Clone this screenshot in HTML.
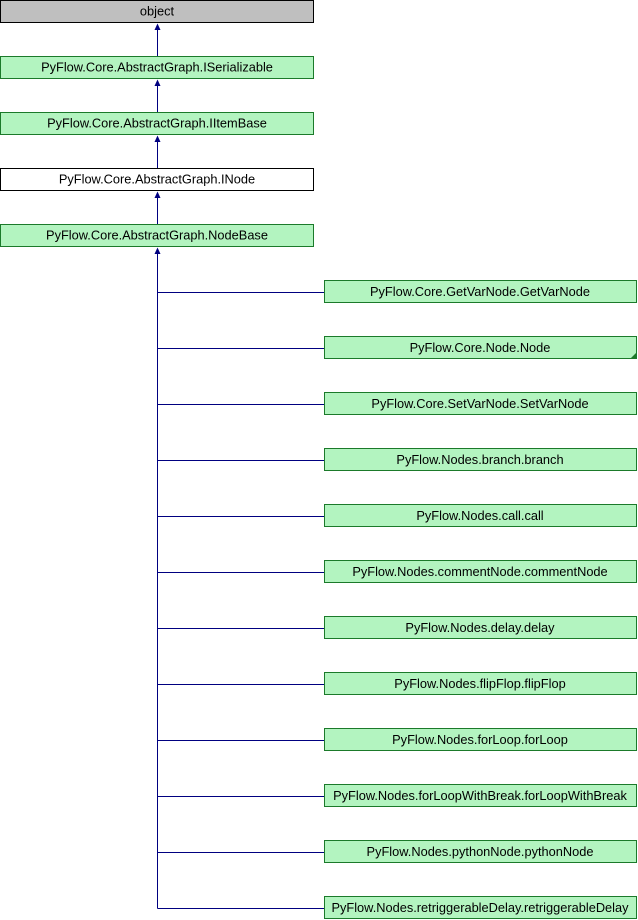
<!DOCTYPE html>
<html><head><meta charset="utf-8"><style>
html,body{margin:0;padding:0;background:#fff;}
svg{display:block;}
text{font-family:"Liberation Sans",sans-serif;font-size:12.8px;fill:#000;}
</style></head><body>
<svg width="638" height="920" xmlns="http://www.w3.org/2000/svg">
<g stroke="#000080" stroke-width="1" fill="none">
<line x1="157.5" y1="254" x2="157.5" y2="908.5"/>
<line x1="157.5" y1="30" x2="157.5" y2="56"/>
<line x1="157.5" y1="86" x2="157.5" y2="112"/>
<line x1="157.5" y1="142" x2="157.5" y2="168"/>
<line x1="157.5" y1="198" x2="157.5" y2="224"/>
</g>
<g fill="#000080">
<polygon points="157.5,23.5 154.5,30 160.5,30"/>
<polygon points="157.5,79.5 154.5,86 160.5,86"/>
<polygon points="157.5,135.5 154.5,142 160.5,142"/>
<polygon points="157.5,191.5 154.5,198 160.5,198"/>
<polygon points="157.5,247.5 154.5,254 160.5,254"/>
</g>
<rect x="0.5" y="0.5" width="313" height="22" fill="#bfbfbf" stroke="#000"/>
<text x="157" y="15.5" text-anchor="middle">object</text>
<rect x="0.5" y="56.5" width="313" height="22" fill="#b3f4c0" stroke="#1b7a2a"/>
<text x="157" y="71.5" text-anchor="middle">PyFlow.Core.AbstractGraph.ISerializable</text>
<rect x="0.5" y="112.5" width="313" height="22" fill="#b3f4c0" stroke="#1b7a2a"/>
<text x="157" y="127.5" text-anchor="middle">PyFlow.Core.AbstractGraph.IItemBase</text>
<rect x="0.5" y="168.5" width="313" height="22" fill="#fff" stroke="#000"/>
<text x="157" y="183.5" text-anchor="middle">PyFlow.Core.AbstractGraph.INode</text>
<rect x="0.5" y="224.5" width="313" height="22" fill="#b3f4c0" stroke="#1b7a2a"/>
<text x="157" y="239.5" text-anchor="middle">PyFlow.Core.AbstractGraph.NodeBase</text>
<g stroke="#000080">
<line x1="157.5" y1="292.5" x2="324" y2="292.5"/>
<line x1="157.5" y1="348.5" x2="324" y2="348.5"/>
<line x1="157.5" y1="404.5" x2="324" y2="404.5"/>
<line x1="157.5" y1="460.5" x2="324" y2="460.5"/>
<line x1="157.5" y1="516.5" x2="324" y2="516.5"/>
<line x1="157.5" y1="572.5" x2="324" y2="572.5"/>
<line x1="157.5" y1="628.5" x2="324" y2="628.5"/>
<line x1="157.5" y1="684.5" x2="324" y2="684.5"/>
<line x1="157.5" y1="740.5" x2="324" y2="740.5"/>
<line x1="157.5" y1="796.5" x2="324" y2="796.5"/>
<line x1="157.5" y1="852.5" x2="324" y2="852.5"/>
<line x1="157.5" y1="908.5" x2="324" y2="908.5"/>
</g>
<g fill="#b3f4c0" stroke="#1b7a2a">
<rect x="324.5" y="280.5" width="312" height="22"/>
<rect x="324.5" y="336.5" width="312" height="22"/>
<rect x="324.5" y="392.5" width="312" height="22"/>
<rect x="324.5" y="448.5" width="312" height="22"/>
<rect x="324.5" y="504.5" width="312" height="22"/>
<rect x="324.5" y="560.5" width="312" height="22"/>
<rect x="324.5" y="616.5" width="312" height="22"/>
<rect x="324.5" y="672.5" width="312" height="22"/>
<rect x="324.5" y="728.5" width="312" height="22"/>
<rect x="324.5" y="784.5" width="312" height="22"/>
<rect x="324.5" y="840.5" width="312" height="22"/>
<rect x="324.5" y="896.5" width="312" height="22"/>
</g>
<polygon points="636.5,352.5 636.5,358.5 630.5,358.5" fill="#1b7a2a"/>
<g text-anchor="middle">
<text x="480" y="296">PyFlow.Core.GetVarNode.GetVarNode</text>
<text x="480" y="352">PyFlow.Core.Node.Node</text>
<text x="480" y="408">PyFlow.Core.SetVarNode.SetVarNode</text>
<text x="480" y="464">PyFlow.Nodes.branch.branch</text>
<text x="480" y="520">PyFlow.Nodes.call.call</text>
<text x="480" y="576">PyFlow.Nodes.commentNode.commentNode</text>
<text x="480" y="632">PyFlow.Nodes.delay.delay</text>
<text x="480" y="688">PyFlow.Nodes.flipFlop.flipFlop</text>
<text x="480" y="744">PyFlow.Nodes.forLoop.forLoop</text>
<text x="480" y="800">PyFlow.Nodes.forLoopWithBreak.forLoopWithBreak</text>
<text x="480" y="856">PyFlow.Nodes.pythonNode.pythonNode</text>
<text x="480" y="912">PyFlow.Nodes.retriggerableDelay.retriggerableDelay</text>
</g>
</svg>
</body></html>
